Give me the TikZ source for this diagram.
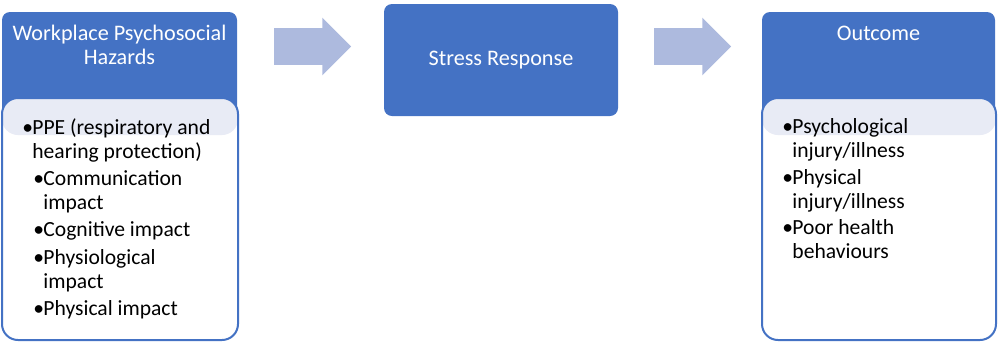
\documentclass[tikz,border=0pt]{standalone}
\usepackage{fontspec}
\setmainfont{Carlito}
\usepackage{tikz}
\usetikzlibrary{shapes,arrows,positioning,shapes.arrows}
\definecolor{tikzblue}{RGB}{68, 114, 196}
\definecolor{tikzlight}{RGB}{173, 186, 222}
\definecolor{tikzband}{RGB}{232, 235, 245}
\newcommand{\bul}{\makebox[5pt][l]{\textbullet}}
\newcommand{\bulgap}{\hspace*{5pt}}

\begin{document}
\begin{tikzpicture}[
        x=0.5pt, y=-0.5pt,
        head/.style={fill=tikzblue, rounded corners=4pt, minimum width=117.5pt, minimum height=53pt, inner sep=0pt},
        body/.style={draw=tikzblue, line width=1pt, fill=white, rounded corners=8pt, minimum width=118pt, minimum height=121pt, inner sep=0pt,
            path picture={\fill[tikzband] (path picture bounding box.north west) rectangle ([yshift=-18.5pt]path picture bounding box.north east);}},
        bigarrow/.style={single arrow, fill=tikzlight, minimum height=38.5pt, single arrow head extend=5.25pt, single arrow tip angle=90, inner xsep=0pt, inner ysep=9pt},
        title/.style={text=white, align=center, inner sep=0pt, font=\fontsize{11.1}{12}\selectfont},
        item/.style={anchor=base west, align=left, inner sep=0pt, font=\fontsize{10.8}{12}\selectfont}
    ]
        \useasboundingbox (0,0) rectangle (1000,344);

        % Hazards column
        \node[head] (hdHaz) at (119.5,65) {};
        \node[body] (bdHaz) at (120,219) {};
        \node[title] (tHaz) at (119.5,45) {Workplace Psychosocial\\Hazards};
        \node[item] (iPPE) at (22,158) {\bul PPE (respiratory and\\\bulgap hearing protection)};
        \node[item] (iComm) at (33,209) {\bul Communication\\\bulgap impact};
        \node[item] (iCog) at (33,236) {\bul Cognitive impact};
        \node[item] (iPhysio) at (33,288) {\bul Physiological\\\bulgap impact};
        \node[item] (iPhys) at (33,315) {\bul Physical impact};

        % Stress Response
        \node[head, minimum width=117pt, minimum height=56pt] (hdStress) at (501,60) {};
        \node[title, anchor=base] (tStress) at (501,65) {Stress Response};

        % Outcome column
        \node[head, minimum width=116.5pt] (hdOut) at (878.5,65) {};
        \node[body, minimum width=117pt] (bdOut) at (879,219) {};
        \node[title, anchor=base] (tOut) at (878.5,40) {Outcome};
        \node[item] (iPsych) at (782,157) {\bul Psychological\\\bulgap injury/illness};
        \node[item] (iPhysInj) at (782,208) {\bul Physical\\\bulgap injury/illness};
        \node[item] (iPoor) at (782,258) {\bul Poor health\\\bulgap behaviours};

        % Arrows
        \node[bigarrow] (arA) at (303.5,46.5) {};
        \node[bigarrow] (arB) at (683.5,46.5) {};
    \end{tikzpicture}
\end{document}
